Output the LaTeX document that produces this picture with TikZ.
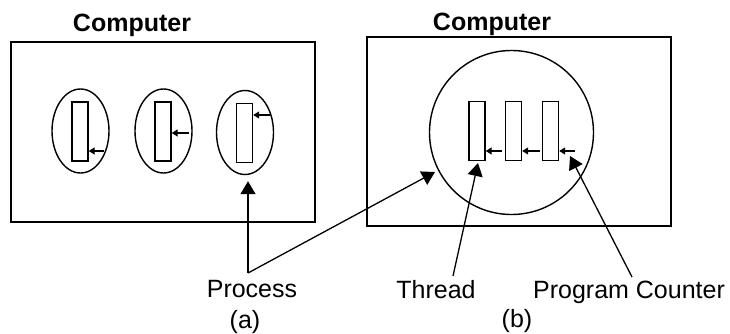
\documentclass[tikz,border=0pt]{standalone}
\usepackage{fontspec}
\setmainfont{Liberation Sans}
\usetikzlibrary{shapes.geometric,arrows.meta}
\begin{document}
\begin{tikzpicture}[x=1pt,y=-1pt,
  frame/.style={draw,line width=1.8pt,minimum width=304pt,minimum height=180pt,inner sep=0pt},
  proc/.style={draw,ellipse,line width=1.4pt,minimum width=57pt,minimum height=84pt,inner sep=0pt},
  thr/.style={draw,rectangle,line width=1.4pt,minimum width=16pt,minimum height=59pt,inner sep=0pt},
  pcarrow/.style={line width=1.3pt,-{Triangle[length=6pt,width=7pt]}},
  bigarrow/.style={line width=1.3pt,-{Triangle[length=13pt,width=15pt]}},
  lbl/.style={anchor=base,inner sep=0pt,font=\fontsize{25}{30}\selectfont},
  title/.style={lbl,font=\fontsize{25}{30}\selectfont\bfseries}]
\useasboundingbox (0,0) rectangle (730,334);
% (a)
\node[frame] (ca) at (163,132) {};
\node[title] (ta) at (132,32) {Computer};
\node[proc] (e1) at (80.5,131) {};
\node[proc] (e2) at (163.5,131) {};
\node[proc] (e3) at (245,132.5) {};
\node[thr] (r1) at (80,131.5) {};
\node[thr] (r2) at (163,131.5) {};
\node[thr] (r3) at (244.5,133) {};
\coordinate (s1) at (104,151);
\coordinate (s2) at (189,133);
\coordinate (s3) at (270,115);
\draw[pcarrow] (s1) -- (s1 -| r1.east);
\draw[pcarrow] (s2) -- (s2 -| r2.east);
\draw[pcarrow] (s3) -- (s3 -| r3.east);
\node[lbl] (lp) at (252,297) {Process};
\node[lbl] (la) at (245,328) {(a)};
% (b)
\node[frame,minimum width=304pt,minimum height=189pt] (cb) at (519,131.5) {};
\node[title] (tb) at (492,31) {Computer};
\node[draw,circle,line width=1.4pt,minimum size=164pt,inner sep=0pt] (pb) at (511.5,132.5) {};
\node[thr] (t1) at (477,131) {};
\node[thr] (t2) at (513.5,131) {};
\node[thr] (t3) at (550.5,131) {};
\coordinate (u1) at (502,151);
\coordinate (u2) at (540,151);
\coordinate (u3) at (575,151);
\draw[pcarrow] (u1) -- (u1 -| t1.east);
\draw[pcarrow] (u2) -- (u2 -| t2.east);
\draw[pcarrow] (u3) -- (u3 -| t3.east);
\node[lbl] (lt) at (436,298) {Thread};
\node[lbl] (lpc) at (629,298) {Program Counter};
\node[lbl] (lb) at (517,327) {(b)};
% connectors
\coordinate (p) at (248,273);
\coordinate (q) at (435,172);
\draw[bigarrow] (p) -- ([yshift=-6pt]p |- e3.south);
\draw[bigarrow] (p) -- (q);
\coordinate (th) at (453,276);
\coordinate (thtip) at (478,163);
\draw[bigarrow] (th) -- (thtip);
\coordinate (pc) at (632,277);
\coordinate (pctip) at (570,156);
\draw[bigarrow] (pc) -- (pctip);
\end{tikzpicture}
\end{document}
